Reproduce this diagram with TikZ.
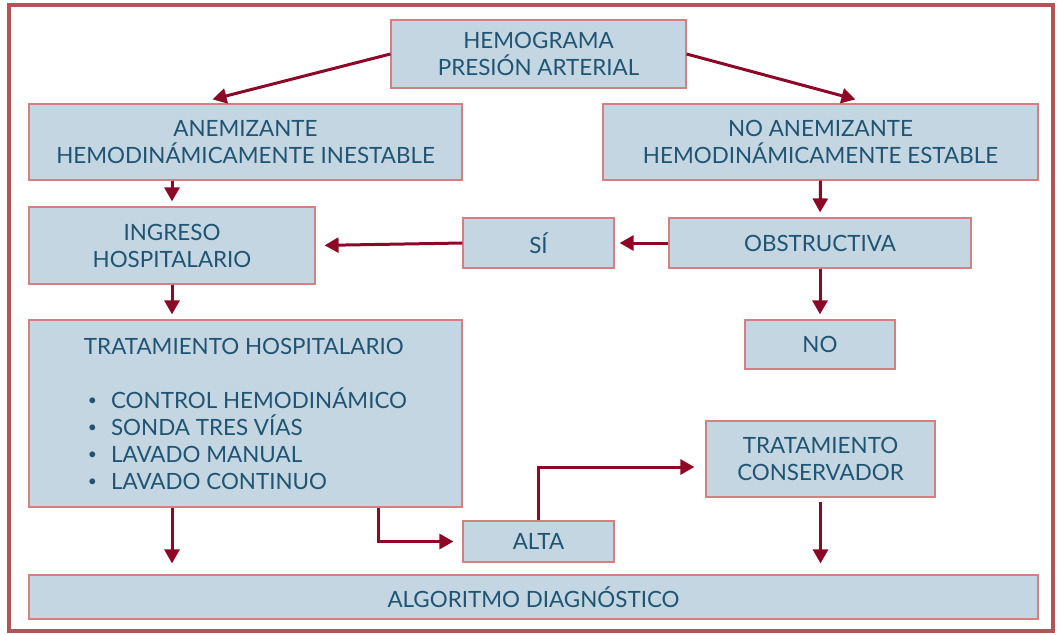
\documentclass[tikz,border=0pt]{standalone}
\usepackage{fontspec}
\setmainfont{Lato}
\usetikzlibrary{arrows.meta, calc}
\usetikzlibrary{positioning}

\definecolor{boxfill}{RGB}{195,214,226}
\definecolor{boxline}{RGB}{212,128,130}
\definecolor{boxtext}{RGB}{32,84,114}
\definecolor{flowred}{RGB}{140,8,38}
\definecolor{framered}{RGB}{178,84,88}

\newcommand{\listdot}{\hspace*{2pt}\raisebox{0.2ex}{\scalebox{0.7}{\textbullet}}\hspace{7pt}}

\begin{document}
\begin{tikzpicture}[x=0.5pt, y=-0.5pt,
    box/.style={draw=boxline, fill=boxfill, text=boxtext, line width=0.6pt, align=center,
        inner sep=0pt, font=\fontsize{11.2}{13.5}\selectfont},
    flow/.style={draw=flowred, line width=1.5pt, -{Triangle[length=7pt,width=7.5pt]}, shorten >=2.5pt}]
    \useasboundingbox (0,0) rectangle (1059,634);
    \draw[framered, line width=2.4pt] (9,5) rectangle (1053,631);

    % top of the chart
    \node[box, minimum width=147.5pt, minimum height=34pt] at (538.5,54) (HEMO) {HEMOGRAMA\\PRESIÓN ARTERIAL};
    \node[box, minimum width=216.5pt, minimum height=38pt] at (245.5,142) (ANEM) {ANEMIZANTE\\HEMODINÁMICAMENTE INESTABLE};
    \node[box, minimum width=217.5pt, minimum height=38pt] at (820.5,142) (NOANEM) {NO ANEMIZANTE\\HEMODINÁMICAMENTE ESTABLE};

    % middle
    \node[box, minimum width=143pt, minimum height=38.5pt] at (172,245.5) (INGRESO) {INGRESO\\HOSPITALARIO};
    \node[box, minimum width=75.5pt, minimum height=25pt] at (538.5,243) (SI) {SÍ};
    \node[box, minimum width=151pt, minimum height=25pt] at (820,243) (OBSTR) {OBSTRUCTIVA};
    \node[box, minimum width=75pt, minimum height=24.5pt] at (820,344.5) (NO) {NO};
    \node[box, align=left, minimum width=216.5pt, minimum height=93.5pt] at (245.5,413.5) (TRATHOSP)
        {TRATAMIENTO HOSPITALARIO\\[13.5pt]
        \listdot CONTROL HEMODINÁMICO\\
        \listdot SONDA TRES VÍAS\\
        \listdot LAVADO MANUAL\\
        \listdot LAVADO CONTINUO};

    % bottom
    \node[box, minimum width=114.5pt, minimum height=38pt] at (820.5,459) (TRATCONS) {TRATAMIENTO\\CONSERVADOR};
    \node[box, minimum width=75.5pt, minimum height=20.5pt] at (538.5,541.5) (ALTA) {ALTA};
    \node[box, minimum width=504.5pt, minimum height=22pt] at (533.5,597) (ALGO) {ALGORITMO DIAGNÓSTICO};

    \draw[flow, shorten >=0pt] (HEMO.west) -- ($(ANEM.north)+(-33,-4)$);
    \draw[flow, shorten >=0pt] (HEMO.east) -- ($(NOANEM.north)+(35,-4)$);
    \draw[flow] (ANEM.south -| INGRESO.north) -- (INGRESO.north);
    \draw[flow] (NOANEM.south) -- (OBSTR.north);
    \draw[flow] (OBSTR.west) -- (SI.east);
    \draw[flow, shorten >=4.5pt] (SI.west) -- (INGRESO.east);
    \draw[flow] (OBSTR.south) -- (NO.north);
    \draw[flow] (INGRESO.south) -- (INGRESO.south |- TRATHOSP.north);
    \draw[flow, shorten >=5.5pt] (INGRESO.south |- TRATHOSP.south) -- (INGRESO.south |- ALGO.north);
    \draw[flow, shorten >=4.5pt] ($(TRATHOSP.south east)+(-84,0)$) |- (ALTA.west);
    \draw[flow, shorten >=5.5pt] (ALTA.north) |- ($(TRATCONS.west)+(0,8)$);
    \draw[flow, shorten >=5.5pt] ($(TRATCONS.south)+(0,4)$) -- (TRATCONS.south |- ALGO.north);
\end{tikzpicture}
\end{document}
